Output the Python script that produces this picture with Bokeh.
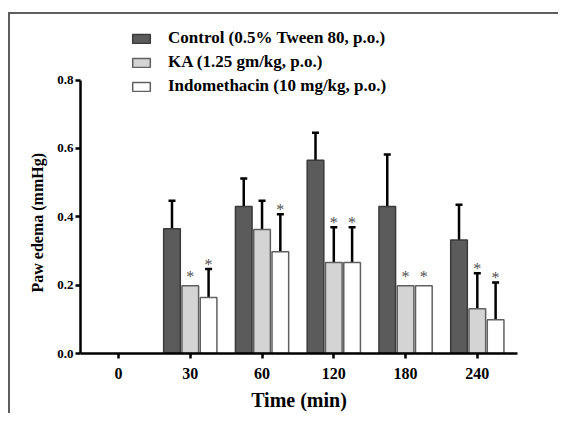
from bokeh.plotting import figure
from bokeh.models import (Range1d, FixedTicker, Whisker, TeeHead, ColumnDataSource,
                          Legend, LegendItem, Title)
from bokeh.core.properties import value
from bokeh.embed import file_html
from bokeh.resources import INLINE

# ---- data ----
times = ["0", "30", "60", "120", "180", "240"]
series = ["Control (0.5% Tween 80, p.o.)", "KA (1.25 gm/kg, p.o.)", "Indomethacin (10 mg/kg, p.o.)"]
control = [0.0, 0.365, 0.430, 0.565, 0.430, 0.332]
control_err = [0.0, 0.082, 0.082, 0.081, 0.152, 0.103]
ka = [0.0, 0.198, 0.363, 0.266, 0.198, 0.131]
ka_err = [0.0, 0.0, 0.084, 0.103, 0.0, 0.104]
indo = [0.0, 0.164, 0.298, 0.266, 0.198, 0.099]
indo_err = [0.0, 0.083, 0.109, 0.103, 0.0, 0.109]
ka_sig = [False, True, False, True, True, True]
indo_sig = [False, True, True, True, True, True]

FONT = "Liberation Serif"
W, H = 558, 413

p = figure(width=W, height=H, output_backend="svg", toolbar_location=None,
           x_range=Range1d(-0.53, 5.56), y_range=Range1d(0, 0.98),
           min_border_left=80, min_border_right=41, min_border_top=18, min_border_bottom=57)
p.grid.visible = False
p.outline_line_color = None
p.background_fill_color = "white"
p.border_fill_alpha = 0
p.styles = {
    "background-color": "white",
    "background-image": "linear-gradient(#5e5e5e, #5e5e5e), linear-gradient(#5e5e5e, #5e5e5e)",
    "background-size": "100% 2px, 2px 100%",
    "background-position": "8px 12px, 8px 12px",
    "background-repeat": "no-repeat",
}

offsets = [-0.255, 0.0, 0.255]
fills = ["#5b5b5b", "#d4d4d4", "#ffffff"]
lines = ["#3a3a3a", "#606060", "#606060"]
vals = [control, ka, indo]
errs = [control_err, ka_err, indo_err]
sigs = [None, ka_sig, indo_sig]

items = []
for k in range(3):
    xs, tops, star_y, star_x, star_off = [], [], [], [], []
    ex, eb, eu = [], [], []
    for i in range(len(times)):
        v = vals[k][i]
        if v <= 0:
            continue
        xs.append(i + offsets[k])
        tops.append(v)
        e = errs[k][i]
        if e > 0:
            ex.append(i + offsets[k]); eb.append(v); eu.append(v + e)
        if sigs[k] is not None and sigs[k][i]:
            star_x.append(i + offsets[k]); star_y.append(v + e)
            star_off.append(-5 if e > 0 else -9)
    r = p.vbar(x=xs, top=tops, bottom=0, width=0.232, fill_color=fills[k],
               line_color=lines[k], line_width=1.5)
    items.append(LegendItem(label=series[k], renderers=[r]))
    if ex:
        src = ColumnDataSource(dict(base=ex, lower=eb, upper=eu))
        w = Whisker(source=src, base="base", lower="lower", upper="upper",
                    dimension="height", line_color="black", line_width=2.5,
                    upper_head=TeeHead(size=7, line_width=2.5, line_color="black"),
                    lower_head=None, level="underlay")
        p.add_layout(w)
    if star_x:
        p.text(x=star_x, y=star_y, text=["*"] * len(star_x), y_offset=star_off,
               text_align="center", text_baseline="alphabetic", text_color="#505050",
               text_font=value(FONT), text_font_size="16px")

legend = Legend(items=items, location=(50, 257), orientation="vertical",
                glyph_width=22, glyph_height=11, label_height=20, spacing=4,
                padding=0, margin=0, label_standoff=16,
                label_text_font=FONT, label_text_font_style="bold",
                label_text_font_size="17px", label_text_color="black",
                border_line_color=None, background_fill_alpha=0)
p.add_layout(legend)

# axes
for ax in (p.xaxis[0], p.yaxis[0]):
    ax.axis_line_width = 2.5
    ax.axis_line_color = "black"
    ax.major_tick_line_width = 2.5
    ax.major_tick_line_color = "black"
    ax.major_tick_out = 5
    ax.major_tick_in = 0
    ax.minor_tick_line_color = None
    ax.major_label_text_font = FONT
    ax.major_label_text_font_style = "bold"
    ax.major_label_text_color = "black"
    ax.axis_label_text_font = FONT
    ax.axis_label_text_font_style = "bold"
    ax.axis_label_text_color = "black"

p.yaxis.ticker = FixedTicker(ticks=[0, 0.2, 0.4, 0.6, 0.8])
p.yaxis.major_label_overrides = {0: "0.0", 0.2: "0.2", 0.4: "0.4", 0.6: "0.6", 0.8: "0.8"}
p.yaxis.bounds = (0, 0.8)
p.yaxis.major_label_text_font_size = "13px"
p.yaxis.major_label_standoff = 2

ytitle = Title(text="Paw edema (mmHg)", align="left", offset=61, standoff=18,
               text_font=FONT, text_font_style="bold", text_font_size="16px",
               text_color="black")
p.add_layout(ytitle, "left")

p.xaxis.ticker = FixedTicker(ticks=list(range(len(times))))
p.xaxis.major_label_overrides = {i: t for i, t in enumerate(times)}
p.xaxis.major_label_text_font_size = "16px"
p.xaxis.major_label_standoff = 9
p.xaxis.axis_label = "Time (min)"
p.xaxis.axis_label_text_font_size = "20px"
p.xaxis.axis_label_standoff = 7

open("out.html", "w").write(file_html(p, INLINE))
